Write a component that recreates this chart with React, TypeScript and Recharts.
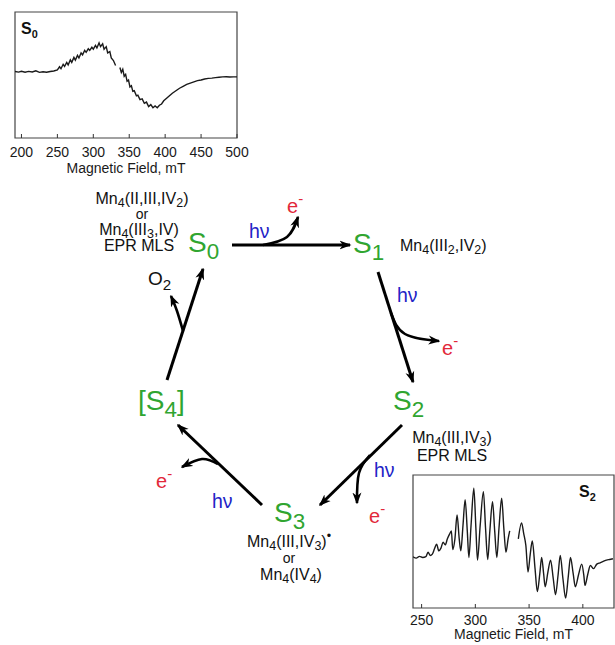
import React from "react";
import { LineChart, ComposedChart, Line, Scatter, XAxis, YAxis, ReferenceArea } from "recharts";

const FONT = '"Liberation Sans", Arial, Helvetica, sans-serif';
const GREEN = "#30a530";
const BLUE = "#2323c6";
const RED = "#e2283a";

// S0 multiline EPR spectrum (field in mT, signal in arbitrary units 0..100)
const s0Field = [
  191, 196, 200, 205, 210, 215, 220, 225, 230, 235, 240, 245, 250, 253, 255, 258, 260, 263, 265, 268,
  270, 273, 275, 278, 280, 283, 285, 288, 290, 293, 295, 298, 300, 303, 305, 308, 310, 313, 315, 318,
  320, 323, 325, 328, 331, 334, 337, 339, 341, 343, 345, 347, 349, 351, 353, 355, 357, 360, 362, 365,
  368, 371, 374, 377, 380, 383, 386, 389, 392, 395, 398, 402, 406, 410, 415, 420, 425, 430, 435, 440,
  445, 450, 455, 460, 465, 470, 475, 480, 485, 490, 495, 500,
];
const s0Signal = [
  52.8, 52.3, 53.0, 52.2, 52.9, 52.4, 53.3, 52.1, 52.6, 52.2, 52.8, 53.2, 54.0, 56.5, 55.0, 58.5, 56.8, 60.0, 58.0, 62.0,
  60.0, 64.0, 61.8, 65.6, 63.5, 67.5, 66.0, 69.5, 68.0, 70.8, 69.5, 72.0, 70.5, 73.5, 71.5, 75.5, 72.5, 74.8, 70.5, 72.5,
  67.5, 68.5, 63.5, 61.5, 57.5, null, 56.0, 52.0, 54.5, 49.0, 50.5, 45.0, 46.0, 40.5, 41.5, 37.0, 37.5, 33.5, 34.0, 30.5,
  31.0, 27.5, 28.5, 25.0, 26.5, 24.0, 25.5, 24.0, 26.0, 27.0, 29.5, 31.5, 33.5, 35.5, 37.5, 39.5, 41.0, 42.5, 43.5, 44.5,
  45.5, 46.0, 46.8, 47.3, 47.5, 47.9, 48.2, 48.5, 48.6, 48.4, 48.5, 48.5,
];
const s0Ticks = [200, 250, 300, 350, 400, 450, 500];

// S2 multiline EPR spectrum
const s2Field = [
  242, 245, 248, 251, 254, 256, 258, 260, 262, 264, 266, 268, 270, 272, 274, 276, 277.7, 279, 281, 283,
  285, 286.5, 288.5, 290.5, 292.5, 294, 296, 298.6, 300.5, 302, 304.5, 307.5, 309.5, 311.5, 313.5, 316, 318, 320, 322, 324.5,
  326.5, 328.5, 330.5, 332, 336, 340, 343, 345, 347, 349, 351, 353, 355.5, 357.7, 360, 361.7, 363.5, 365, 367.5, 370,
  372.5, 374.6, 377, 379, 381.5, 384, 386.5, 388.5, 391, 393, 396, 399, 401, 402, 404.5, 407, 410, 413, 416, 419,
  422, 425, 428,
];
const s2Signal = [
  38.5, 37.5, 38.8, 38.0, 38.6, 42.0, 39.5, 40.5, 44.5, 48.0, 43.0, 45.0, 49.5, 47.5, 52.0, 55.5, 58.0, 44.0, 52.0, 70.0,
  52.0, 43.0, 62.0, 81.5, 58.0, 38.0, 62.0, 90.0, 60.0, 36.0, 62.0, 87.5, 60.0, 36.5, 58.0, 80.0, 58.0, 38.0, 60.0, 82.5,
  60.0, 42.0, 52.0, 58.0, null, 52.0, 64.0, 56.0, 47.0, 27.0, 40.0, 50.5, 30.0, 12.3, 26.0, 38.0, 26.0, 16.0, 27.0, 36.0,
  22.0, 10.0, 25.0, 39.5, 22.0, 7.4, 24.0, 38.0, 26.0, 16.0, 25.0, 33.0, 24.0, 17.0, 25.0, 32.0, 29.6, 33.0, 34.0, 35.0,
  36.0, 36.5, 37.0,
];
const s2Ticks = [250, 300, 350, 400];

// Kok cycle: positions on the page (x right, y down)
const stateLabels = [
  { x: 188, y: 252, text: "S_{0}" },
  { x: 353, y: 253, text: "S_{1}" },
  { x: 393, y: 410, text: "S_{2}" },
  { x: 274, y: 522, text: "S_{3}" },
  { x: 138, y: 410, text: "[S_{4}]" },
];
const couplesCentered = [
  { x: 142, y: 204, text: "Mn_{4}(II,III,IV_{2})" },
  { x: 139, y: 235, text: "Mn_{4}(III_{3},IV)" },
  { x: 139, y: 251, text: "EPR MLS" },
  { x: 452, y: 443, text: "Mn_{4}(III,IV_{3})" },
  { x: 452, y: 461, text: "EPR MLS" },
  { x: 289, y: 547, text: "Mn_{4}(III,IV_{3})^{•}" },
  { x: 291, y: 580, text: "Mn_{4}(IV_{4})" },
];
const orLabels = [
  { x: 142, y: 219, text: "or" },
  { x: 289, y: 563, text: "or" },
];
const couplesLeft = [{ x: 400, y: 251, text: "Mn_{4}(III_{2},IV_{2})" }];
const oxygenLabel = [{ x: 148, y: 285, text: "O_{2}" }];
const lightLabels = [
  { x: 249, y: 238, text: "hν" },
  { x: 397, y: 302, text: "hν" },
  { x: 374, y: 477, text: "hν" },
  { x: 212, y: 508, text: "hν" },
];
const electronLabels = [
  { x: 287, y: 213, text: "e^{-}" },
  { x: 442, y: 355, text: "e^{-}" },
  { x: 369, y: 523, text: "e^{-}" },
  { x: 156, y: 488, text: "e^{-}" },
];
const transitionArrows = [
  [{ x: 232, y: 245 }, { x: 350, y: 245 }],
  [{ x: 378, y: 272 }, { x: 413, y: 382 }],
  [{ x: 402, y: 425 }, { x: 320, y: 505 }],
  [{ x: 262, y: 505 }, { x: 178, y: 425 }],
  [{ x: 167, y: 380 }, { x: 203, y: 269 }],
];
const releaseArrows = [
  [{ x: 263, y: 245 }, { x: 287, y: 237 }, { x: 298, y: 217 }],
  [{ x: 391, y: 313 }, { x: 405, y: 334 }, { x: 439, y: 341 }],
  [{ x: 370, y: 455 }, { x: 359, y: 473 }, { x: 357, y: 503 }],
  [{ x: 218, y: 464 }, { x: 202, y: 459 }, { x: 182, y: 467 }],
  [{ x: 183, y: 331 }, { x: 177, y: 311 }, { x: 171, y: 296 }],
];

type Run = { text: string; kind: "base" | "sub" | "sup" };

function parseRich(src: string): Run[] {
  const runs: Run[] = [];
  const re = /([_^])\{([^}]*)\}|([^_^]+)/g;
  let m: RegExpExecArray | null;
  while ((m = re.exec(src))) {
    if (m[3]) runs.push({ text: m[3], kind: "base" });
    else runs.push({ text: m[2], kind: m[1] === "_" ? "sub" : "sup" });
  }
  return runs;
}

interface RichTextProps {
  x: number;
  y: number;
  text: string;
  size: number;
  color: string;
  anchor?: "start" | "middle" | "end";
  weight?: number | string;
  subScale?: number;
  subShift?: number;
  supShift?: number;
}

function RichText({ x, y, text, size, color, anchor = "start", weight = "normal", subScale = 0.78, subShift = 0.18, supShift = 0.45 }: RichTextProps) {
  let shift = 0;
  return (
    <text x={x} y={y} fontSize={size} fill={color} textAnchor={anchor} fontFamily={FONT} fontWeight={weight}>
      {parseRich(text).map((r, i) => {
        const target = r.kind === "sub" ? size * subShift : r.kind === "sup" ? -size * supShift : 0;
        const dy = target - shift;
        shift = target;
        return (
          <tspan key={i} dy={dy} fontSize={r.kind === "base" ? size : size * subScale}>
            {r.text}
          </tspan>
        );
      })}
    </text>
  );
}

function labelShape(style: Omit<RichTextProps, "x" | "y" | "text">) {
  return (p: any) => <RichText x={p.cx} y={p.cy} text={p.payload.text} {...style} />;
}

function InnerTick(props: any) {
  const { x, y, payload, labelDy } = props;
  return (
    <g>
      <line x1={x} y1={y} x2={x} y2={y - 4} stroke="#333" strokeWidth={1} />
      <text x={x} y={y + labelDy} textAnchor="middle" fontSize={14} fill="#1a1a1a" fontFamily={FONT}>
        {payload.value}
      </text>
    </g>
  );
}

interface SpectrumProps {
  field: number[];
  signal: (number | null)[];
  ticks: number[];
  domain: [number, number];
  name: string;
  width: number;
  height: number;
  margin: { top: number; right: number; bottom: number; left: number };
  axisHeight: number;
  tickDy: number;
  titleOffset: number;
  nameSide: "left" | "right";
  curve: "linear" | "monotone";
}

function Spectrum({ field, signal, ticks, domain, name, width, height, margin, axisHeight, tickDy, titleOffset, nameSide, curve }: SpectrumProps) {
  const data = field.map((f, i) => ({ f, v: signal[i] }));
  return (
    <LineChart width={width} height={height} data={data} margin={margin}>
      <XAxis
        type="number"
        dataKey="f"
        domain={domain}
        ticks={ticks}
        interval={0}
        allowDataOverflow
        axisLine={false}
        tickLine={false}
        tickSize={0}
        tickMargin={0}
        height={axisHeight}
        tick={(p: any) => <InnerTick {...p} labelDy={tickDy} />}
        label={{ value: "Magnetic Field, mT", position: "insideBottom", offset: titleOffset, fontSize: 14, fill: "#1a1a1a", fontFamily: FONT }}
      />
      <YAxis type="number" domain={[0, 100]} hide />
      <ReferenceArea
        x1={domain[0]}
        x2={domain[1]}
        y1={0}
        y2={100}
        fill="none"
        stroke="#444"
        strokeWidth={1.2}
        ifOverflow="visible"
        label={(p: any) => {
          const vb = p.viewBox;
          const x = nameSide === "left" ? vb.x + 6 : vb.x + vb.width - 35;
          return <RichText x={x} y={vb.y + 22} text={name} size={16} color="#111" weight="bold" subScale={0.68} subShift={0.25} />;
        }}
      />
      <Line type={curve} dataKey="v" stroke="#1a1a1a" strokeWidth={1.4} dot={false} activeDot={false} connectNulls={false} isAnimationActive={false} />
    </LineChart>
  );
}

function KokCycle() {
  return (
    <ComposedChart width={615} height={645} margin={{ top: 0, right: 0, bottom: 0, left: 0 }}>
      <defs>
        <marker id="kokArrow" viewBox="0 0 12 10" refX={10.5} refY={5} markerWidth={12} markerHeight={10} markerUnits="userSpaceOnUse" orient="auto">
          <path d="M0,0.5 L12,5 L0,9.5 L3.5,5 Z" fill="#000" />
        </marker>
      </defs>
      <XAxis type="number" dataKey="x" domain={[0, 615]} hide />
      <YAxis type="number" dataKey="y" domain={[0, 645]} reversed hide />
      {transitionArrows.map((pts, i) => (
        <Line key={`t${i}`} data={pts} dataKey="y" type="linear" stroke="#000" strokeWidth={3} dot={false} activeDot={false} markerEnd="url(#kokArrow)" isAnimationActive={false} />
      ))}
      {releaseArrows.map((pts, i) => (
        <Line key={`r${i}`} data={pts} dataKey="y" type="natural" stroke="#000" strokeWidth={2.6} dot={false} activeDot={false} markerEnd="url(#kokArrow)" isAnimationActive={false} />
      ))}
      <Scatter data={stateLabels} isAnimationActive={false} shape={labelShape({ size: 28, color: GREEN, subScale: 0.8, subShift: 0.24 })} />
      <Scatter data={couplesCentered} isAnimationActive={false} shape={labelShape({ size: 16, color: "#111", anchor: "middle" })} />
      <Scatter data={orLabels} isAnimationActive={false} shape={labelShape({ size: 14, color: "#111", anchor: "middle" })} />
      <Scatter data={couplesLeft} isAnimationActive={false} shape={labelShape({ size: 16, color: "#111" })} />
      <Scatter data={oxygenLabel} isAnimationActive={false} shape={labelShape({ size: 19, color: "#111", subScale: 0.8, subShift: 0.28 })} />
      <Scatter data={lightLabels} isAnimationActive={false} shape={labelShape({ size: 19.5, color: BLUE })} />
      <Scatter data={electronLabels} isAnimationActive={false} shape={labelShape({ size: 20, color: RED, subScale: 0.75, supShift: 0.45 })} />
    </ComposedChart>
  );
}

export default function App() {
  return (
    <div style={{ position: "absolute", left: 0, top: 0, width: 615, height: 645, background: "#fff", overflow: "hidden" }}>
      <div style={{ position: "absolute", left: 0, top: 0 }}>
        <KokCycle />
      </div>
      <div style={{ position: "absolute", left: 0, top: 0 }}>
        <Spectrum
          field={s0Field}
          signal={s0Signal}
          ticks={s0Ticks}
          domain={[191, 500]}
          name="S_{0}"
          width={250}
          height={180}
          margin={{ top: 12, right: 13, bottom: 0, left: 15 }}
          axisHeight={42}
          tickDy={19}
          titleOffset={7}
          nameSide="left"
          curve="linear"
        />
      </div>
      <div style={{ position: "absolute", left: 405, top: 470 }}>
        <Spectrum
          field={s2Field}
          signal={s2Signal}
          ticks={s2Ticks}
          domain={[242, 429]}
          name="S_{2}"
          width={210}
          height={175}
          margin={{ top: 5, right: 1, bottom: 0, left: 8 }}
          axisHeight={37}
          tickDy={17}
          titleOffset={6}
          nameSide="right"
          curve="monotone"
        />
      </div>
    </div>
  );
}
